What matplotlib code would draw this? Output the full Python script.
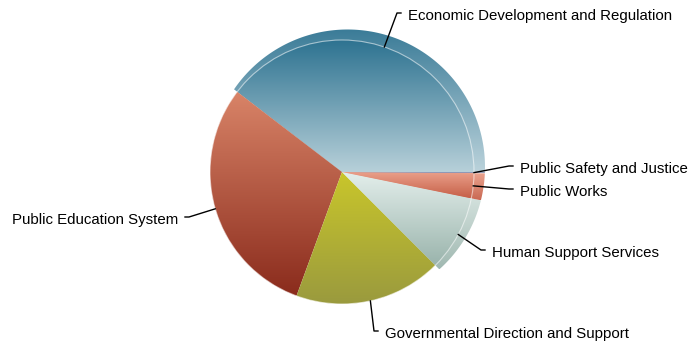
import numpy as np
import matplotlib.pyplot as plt
from matplotlib.colors import to_rgb
from matplotlib.patches import Circle, Polygon

plt.rcParams['font.family'] = ['Liberation Sans', 'DejaVu Sans']

categories = ['Economic Development and Regulation', 'Public Education System',
              'Governmental Direction and Support', 'Human Support Services',
              'Public Works', 'Public Safety and Justice']
shares = [39.6, 29.8, 18.1, 9.3, 3.05, 0.15]
top_colors = ['#2e7391', '#d98468', '#c9c62b', '#e4efec', '#eba28c', '#a8b0c8']
bottom_colors = ['#b7d0d9', '#8a2b1c', '#9a9a3e', '#9ab4ac', '#c65f48', '#8890b0']

# label placement (pixel rows / columns of the text anchor)
label_x = [408, 178, 385, 492, 520, 520]
label_y = [16, 220, 334, 253, 192, 169]

W, H = 690, 348
CX, CY, R = 342, H - 172, 132          # front disc
BX, BY, BR = 347.5, H - 167, 137.5     # rim disc behind it

fig = plt.figure(figsize=(W / 100, H / 100), dpi=100)
ax = fig.add_axes([0, 0, 1, 1])


def gradient(patch, c0, c1, xs, ys, z, lighten=0.0):
    g = np.linspace(0, 1, 256)[:, None]
    img = np.array(to_rgb(c0)) * (1 - g) + np.array(to_rgb(c1)) * g
    img = img * (1 - lighten) + lighten
    im = ax.imshow(img[:, None, :], extent=[xs.min(), xs.max(), ys.min(), ys.max()],
                   origin='upper', aspect='auto', interpolation='bilinear', zorder=z)
    im.set_clip_path(patch)


front, _ = ax.pie(shares, startangle=0, counterclock=True, center=(CX, CY),
                  radius=R, frame=True, wedgeprops=dict(linewidth=0, zorder=3))

for w, c0, c1 in zip(front, top_colors, bottom_colors):
    w.set_facecolor('none')
    t = np.radians(np.linspace(w.theta1, w.theta2, 120))
    u = np.c_[np.cos(t), np.sin(t)]
    xs = np.r_[CX, CX + R * u[:, 0]]
    ys = np.r_[CY, CY + R * u[:, 1]]
    gradient(w, c0, c1, xs, ys, 3)

    # rim: same slice angles, reaching out to the back disc
    mid = (t[0] + t[-1]) / 2
    if not (np.sin(mid) > 0 or np.cos(mid) > 0.7):
        continue
    d = np.array([CX - BX, CY - BY])
    du = u @ d
    s = -du + np.sqrt(du ** 2 - d @ d + BR ** 2)
    pts = np.vstack([[CX, CY], np.c_[CX + s * u[:, 0], CY + s * u[:, 1]]])
    rim = Polygon(pts, closed=True, fc='none', ec='none', zorder=1)
    ax.add_patch(rim)
    gradient(rim, c0, c1, pts[:, 0], pts[:, 1], 1, lighten=0.06)

ax.add_patch(Circle((CX, CY), R, fill=False, ec='white', lw=0.8, alpha=0.55, zorder=4))

for w, name, lx, ly in zip(front, categories, label_x, label_y):
    mid = np.radians((w.theta1 + w.theta2) / 2)
    x0, y0 = CX + R * np.cos(mid), CY + R * np.sin(mid)
    side = 1 if np.cos(mid) >= 0 else -1
    ex = lx - side * 11
    ey = H - ly + 3
    ax.plot([x0, ex, ex + side * 4], [y0, ey, ey], color='black', lw=1, zorder=5)
    ax.text(lx, H - ly, name, ha='left' if side > 0 else 'right',
            va='center', fontsize=10.8, color='black', zorder=5)

ax.set_xlim(0, W)
ax.set_ylim(0, H)
ax.axis('off')
fig.savefig('out.png', dpi=100)
